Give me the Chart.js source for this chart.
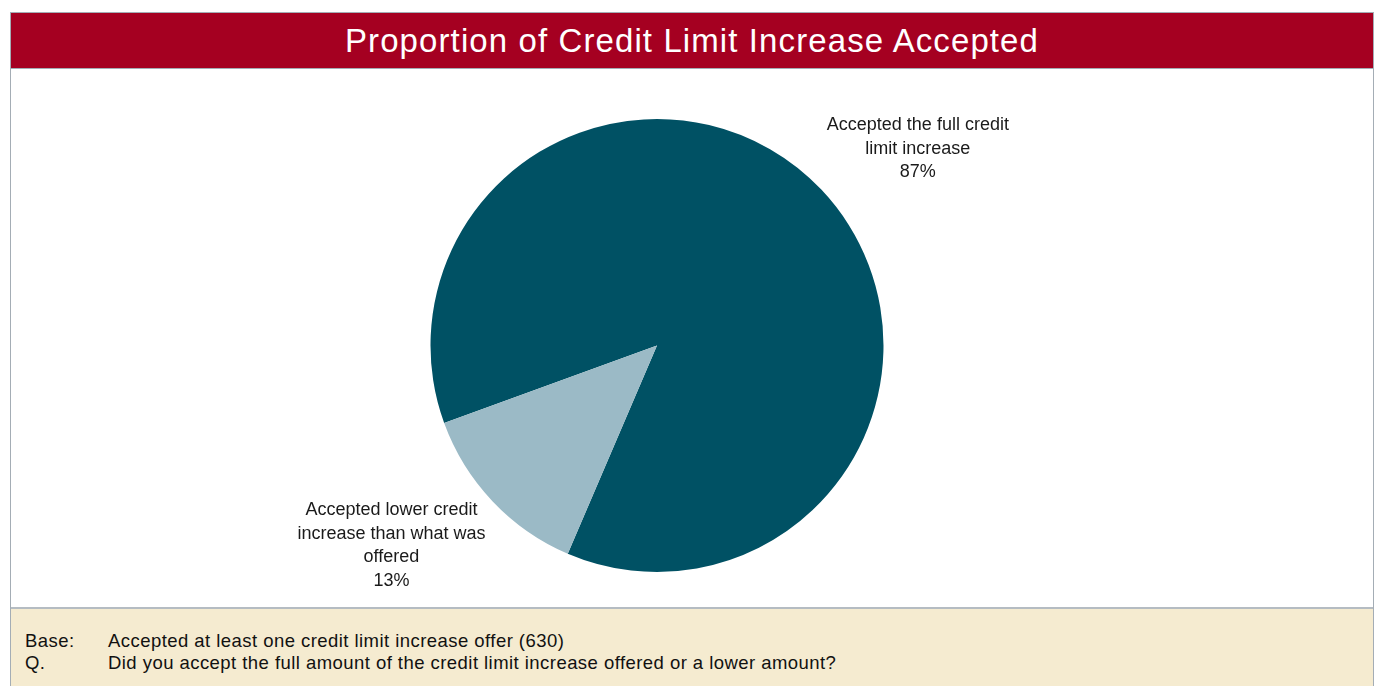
<!DOCTYPE html>
<html>
<head>
<meta charset="utf-8">
<script src="https://cdn.jsdelivr.net/npm/chart.js@4/dist/chart.umd.min.js"></script>
<style>
    body {
        margin: 0;
        background: #ffffff;
        font-family: "Liberation Sans", Arial, sans-serif;
    }
    .frame {
        position: absolute;
        left: 10px;
        top: 12px;
        width: 1362px;
        border: 1px solid #a4adb5;
    }
    .title-bar {
        height: 55px;
        background: #a50021;
        border-bottom: 1px solid #a4adb5;
        color: #ffffff;
        font-size: 33px;
        letter-spacing: 1.1px;
        text-align: center;
        line-height: 55px;
    }
    .chart-box {
        position: relative;
        height: 538px;
        background: #ffffff;
        border-bottom: 2px solid #b5bcc2;
    }
    .notes {
        height: 90px;
        background: #f5ebd0;
        color: #111111;
        font-size: 18.5px;
        letter-spacing: 0.45px;
        padding: 21px 0 0 14px;
        box-sizing: border-box;
        line-height: 22px;
    }
    .notes span {
        display: inline-block;
        width: 83px;
    }
</style>
</head>
<body>
<div class="frame">
    <div class="title-bar">Proportion of Credit Limit Increase Accepted</div>
    <div class="chart-box">
        <canvas id="credit-pie"></canvas>
    </div>
    <div class="notes">
        <div><span>Base:</span>Accepted at least one credit limit increase offer (630)</div>
        <div><span>Q.</span>Did you accept the full amount of the credit limit increase offered or a lower amount?</div>
    </div>
</div>

<script>
// Survey split, in percent
const categories = [
    ['Accepted the full credit', 'limit increase'],
    ['Accepted lower credit', 'increase than what was', 'offered']
];
const shares = [87, 13];
const sliceColors = ['#005164', '#9bbac6'];

// Draws each slice's name and share outside the pie; taller label blocks
// are pushed a little further out so they clear the edge
const outsideLabels = {
    id: 'outsideLabels',
    afterDatasetsDraw(chart) {
        const ctx = chart.ctx;
        const meta = chart.getDatasetMeta(0);
        const total = shares.reduce((a, b) => a + b, 0);
        const lineH = 23.5;
        ctx.save();
        ctx.font = '18px "Liberation Sans", Arial, sans-serif';
        ctx.fillStyle = '#1a1a1a';
        ctx.textAlign = 'center';
        ctx.textBaseline = 'middle';
        meta.data.forEach((arc, i) => {
            const lines = categories[i].concat([Math.round(shares[i] / total * 100) + '%']);
            const blockH = lines.length * lineH;
            const mid = (arc.startAngle + arc.endAngle) / 2 + 6.4 * Math.PI / 180;
            const dist = arc.outerRadius + 82.5 + blockH * 0.25;
            const cx = arc.x + Math.cos(mid) * dist;
            const cy = arc.y + Math.sin(mid) * dist;
            const top = cy - (lines.length - 1) * lineH / 2;
            lines.forEach((t, j) => ctx.fillText(t, cx, top + j * lineH));
        });
        ctx.restore();
    }
};

new Chart(document.getElementById('credit-pie').getContext('2d'), {
    type: 'pie',
    data: {
        labels: categories,
        datasets: [{
            data: shares,
            backgroundColor: sliceColors,
            borderWidth: 0
        }]
    },
    options: {
        responsive: true,
        maintainAspectRatio: false,
        animation: false,
        rotation: 250,
        layout: {
            padding: { left: 419, right: 489, top: 50, bottom: 35 }
        },
        plugins: {
            legend: { display: false },
            tooltip: { enabled: false }
        }
    },
    plugins: [outsideLabels]
});
</script>
</body>
</html>
